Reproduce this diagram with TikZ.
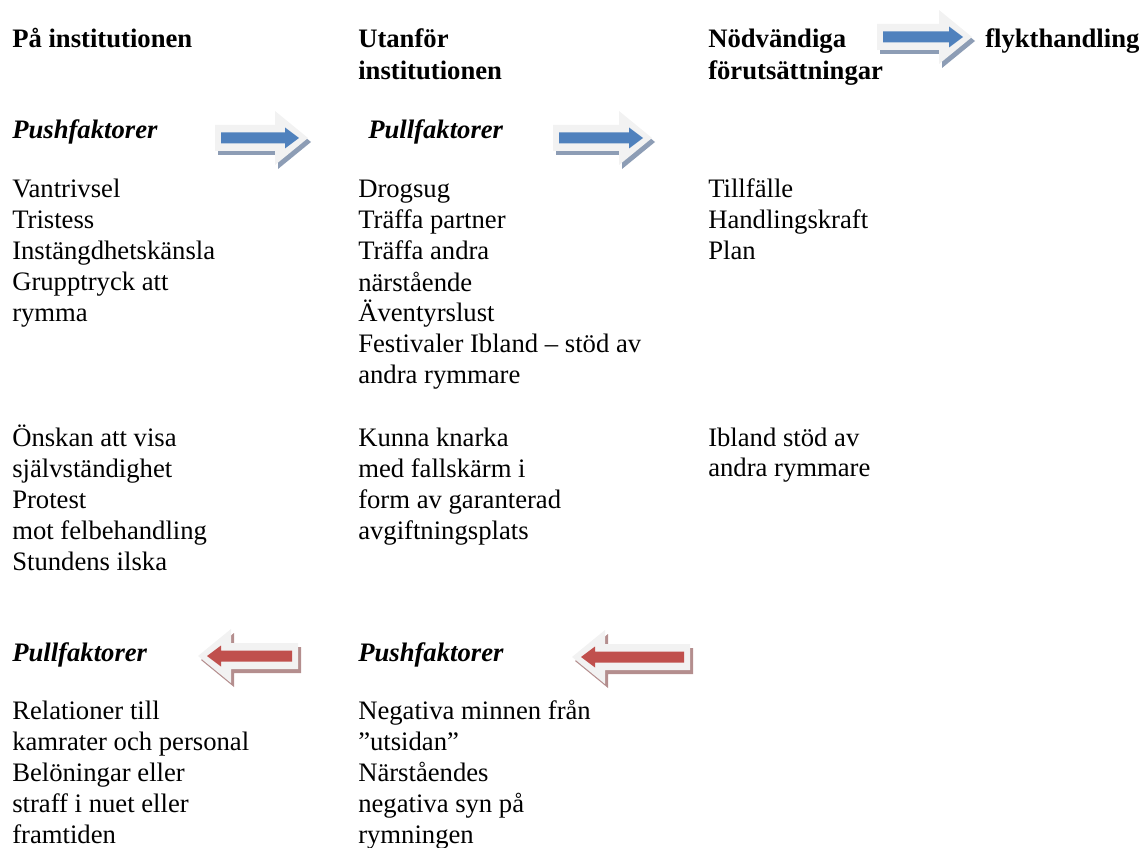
\documentclass[tikz,border=0pt]{standalone}
\usepackage{fontspec}
\setmainfont{Liberation Serif}
\definecolor{arrowbg}{HTML}{F2F2F2}
\definecolor{arrowblue}{HTML}{4F81BD}
\definecolor{arrowred}{HTML}{C0504D}
\definecolor{shadeblue}{HTML}{8D9DB5}
\definecolor{shadered}{HTML}{B48E8E}
% block arrow: x, y of tail, length, direction (1 or -1), colour, shadow colour
\newcommand{\fatarrow}[6]{%
\begin{scope}[shift={(#1+3,#2+4)},xscale=#4]
\fill [#6] (0,-13) -- (#3-33,-13) -- (#3-33,-27) -- (#3,0) -- (#3-33,27) -- (#3-33,13) -- (0,13) -- cycle;
\end{scope}
\begin{scope}[shift={(#1,#2)},xscale=#4]
\fill [arrowbg] (0,-13) -- (#3-33,-13) -- (#3-33,-27) -- (#3,0) -- (#3-33,27) -- (#3-33,13) -- (0,13) -- cycle;
\fill [#5] (6,-5.5) -- (#3-23,-5.5) -- (#3-23,-10.5) -- (#3-9,0) -- (#3-23,10.5) -- (#3-23,5.5) -- (6,5.5) -- cycle;
\end{scope}}
\begin{document}
\begin{tikzpicture}[x=0.75pt,y=-0.75pt]
\tikzstyle{every node}+=[inner sep=0pt, anchor=base west, align=left, font=\fontsize{20}{23.25}\selectfont]
\tikzstyle{head}=[font=\fontsize{20}{24}\selectfont\bfseries]
\tikzstyle{factor}=[font=\fontsize{20}{23.25}\selectfont\bfseries\itshape]
\useasboundingbox (0,0) rectangle (1139,848);
% headings (nodes sit on the baseline of their last line)
\node [head] (inst) at (12,48) {På institutionen};
\node [head] (utan) at (358,80) {Utanför\\institutionen};
\node [head] (nodv) at (708,80) {Nödvändiga\\förutsättningar};
\node [head] (flykt) at (985,48) {flykthandling};
\fatarrow{877}{37}{95}{1}{arrowblue}{shadeblue}
% first row of factors
\node [factor] (push1) at (12,139) {Pushfaktorer};
\fatarrow{215}{138}{93}{1}{arrowblue}{shadeblue}
\node [factor] (pull1) at (368,139) {Pullfaktorer};
\fatarrow{553}{138}{99}{1}{arrowblue}{shadeblue}
\node (ina) at (12,322) {Vantrivsel\\Tristess\\Instängdhetskänsla\\Grupptryck att\\rymma};
\node (uta) at (358,384) {Drogsug\\Träffa partner\\Träffa andra\\närstående\\Äventyrslust\\Festivaler Ibland – stöd av\\andra rymmare};
\node (nda) at (708,260) {Tillfälle\\Handlingskraft\\Plan};
\node (inb) at (12,570) {Önskan att visa\\självständighet\\Protest\\mot felbehandling\\Stundens ilska};
\node (utb) at (358,539) {Kunna knarka\\med fallskärm i\\form av garanterad\\avgiftningsplats};
\node (ndb) at (708,477) {Ibland stöd av\\andra rymmare};
% return factors
\node [factor] (pull2) at (12,661) {Pullfaktorer};
\fatarrow{298}{656}{100}{-1}{arrowred}{shadered}
\node [factor] (push2) at (358,661) {Pushfaktorer};
\fatarrow{690}{657}{118}{-1}{arrowred}{shadered}
\node (inc) at (12,843) {Relationer till\\kamrater och personal\\Belöningar eller\\straff i nuet eller\\framtiden};
\node (utc) at (358,843) {Negativa minnen från\\”utsidan”\\Närståendes\\negativa syn på\\rymningen};
\end{tikzpicture}
\end{document}
